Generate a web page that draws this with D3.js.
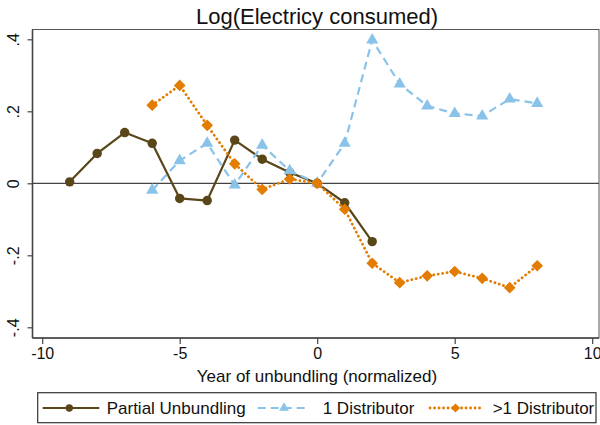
<!DOCTYPE html>
<html>
<head>
<meta charset="utf-8">
<script src="https://cdn.jsdelivr.net/npm/d3@7"></script>
<style>
  html, body { margin: 0; padding: 0; background: #fff; }
  svg { display: block; font-family: "Liberation Sans", Arial, sans-serif; }
</style>
</head>
<body>
<svg id="chart" width="600" height="425"></svg>
<script>
// Event-study estimates by year relative to unbundling
const partialYears = [-9, -8, -7, -6, -5, -4, -3, -2, -1, 0, 1, 2];
const partialVals  = [0.004, 0.083, 0.141, 0.111, -0.042, -0.048, 0.120, 0.067, 0.030, 0, -0.054, -0.162];

const oneDistYears = [-6, -5, -4, -3, -2, -1, 0, 1, 2, 3, 4, 5, 6, 7, 8];
const oneDistVals  = [-0.019, 0.063, 0.111, -0.005, 0.106, 0.035, 0, 0.111, 0.398, 0.276, 0.215, 0.194, 0.187, 0.234, 0.222];

const multiDistYears = [-6, -5, -4, -3, -2, -1, 0, 1, 2, 3, 4, 5, 6, 7, 8];
const multiDistVals  = [0.217, 0.272, 0.161, 0.054, -0.017, 0.012, 0, -0.072, -0.222, -0.276, -0.257, -0.245, -0.264, -0.290, -0.229];

const xTicks = [-10, -5, 0, 5, 10];
const xTickLabels = ["-10", "-5", "0", "5", "10"];
const yTicks = [-0.4, -0.2, 0, 0.2, 0.4];
const yTickLabels = ["-.4", "-.2", "0", ".2", ".4"];

const titleText = "Log(Electricy consumed)";
const xTitleText = "Year of unbundling (normalized)";
const seriesNames = ["Partial Unbundling", "1 Distributor", ">1 Distributor"];

const svg = d3.select("#chart");

// plot region frame
const box = { left: 32.5, top: 29.5, right: 599, bottom: 338 };

const x = d3.scaleLinear().domain([-10, 10]).range([42.2, 592.2]);
const y = d3.scaleLinear().domain([-0.4, 0.4]).range([327.3, 39.3]);

const C_BROWN = "#5a4719";
const C_BLUE = "#8ac3ea";
const C_ORANGE = "#e37c02";

// title
svg.append("text")
  .attr("x", 317).attr("y", 24)
  .attr("text-anchor", "middle")
  .attr("font-size", 22)
  .attr("fill", "#111")
  .text(titleText);

// plot region outline
svg.append("rect")
  .attr("x", box.left).attr("y", box.top)
  .attr("width", box.right - box.left).attr("height", box.bottom - box.top)
  .attr("fill", "none").attr("stroke", "#555").attr("stroke-width", 1);

// x axis
const xAxis = d3.axisBottom(x)
  .tickValues(xTicks)
  .tickFormat((d, i) => xTickLabels[i])
  .tickSize(6).tickPadding(4).tickSizeOuter(0);
const gx = svg.append("g").attr("transform", `translate(0,${box.bottom})`).call(xAxis);
gx.select(".domain").attr("d", `M${box.left},0H${box.right}`).attr("stroke", "#444").attr("stroke-width", 1.6);
gx.selectAll(".tick line").attr("stroke", "#444").attr("stroke-width", 1.2);
gx.selectAll(".tick text").attr("font-size", 16).attr("fill", "#111")
  .attr("font-family", "Liberation Sans, Arial, sans-serif");

// y axis
const yAxis = d3.axisLeft(y)
  .tickValues(yTicks)
  .tickFormat((d, i) => yTickLabels[i])
  .tickSize(5).tickPadding(0).tickSizeOuter(0);
const gy = svg.append("g").attr("transform", `translate(${box.left},0)`).call(yAxis);
gy.select(".domain").attr("d", `M0,${box.top}V${box.bottom}`).attr("stroke", "#444").attr("stroke-width", 1.6);
gy.selectAll(".tick line").attr("stroke", "#444").attr("stroke-width", 1.2);
gy.selectAll(".tick text")
  .attr("font-size", 16).attr("fill", "#111")
  .attr("font-family", "Liberation Sans, Arial, sans-serif")
  .attr("text-anchor", "middle")
  .attr("x", null).attr("dy", null)
  .attr("transform", "translate(-14,0) rotate(-90)");

// reference line at zero
svg.append("line")
  .attr("x1", box.left).attr("x2", box.right)
  .attr("y1", y(0)).attr("y2", y(0))
  .attr("stroke", "#444").attr("stroke-width", 1.3);

// x axis title
svg.append("text")
  .attr("x", 317).attr("y", 382)
  .attr("text-anchor", "middle")
  .attr("font-size", 17)
  .attr("fill", "#111")
  .text(xTitleText);

const line = d3.line().x(d => x(d[0])).y(d => y(d[1]));

const series = [
  { years: partialYears, vals: partialVals, color: C_BROWN, dash: null, width: 2.2, cap: "butt", marker: "circle" },
  { years: oneDistYears, vals: oneDistVals, color: C_BLUE, dash: "8,5", width: 2.2, cap: "butt", marker: "triangle" },
  { years: multiDistYears, vals: multiDistVals, color: C_ORANGE, dash: "0.1,4.4", width: 2.8, cap: "round", marker: "diamond" }
];

function markerPath(type, size) {
  const sym = type === "circle" ? d3.symbolCircle : type === "triangle" ? d3.symbolTriangle : d3.symbolSquare;
  return d3.symbol().type(sym).size(size)();
}

series.forEach(s => {
  const pts = s.years.map((yr, i) => [yr, s.vals[i]]);
  svg.append("path")
    .datum(pts)
    .attr("d", line)
    .attr("fill", "none")
    .attr("stroke", s.color)
    .attr("stroke-width", s.width)
    .attr("stroke-dasharray", s.dash)
    .attr("stroke-linecap", s.cap)
    .attr("stroke-linejoin", "round");

  const size = s.marker === "circle" ? 70 : s.marker === "triangle" ? 64 : 68;
  svg.append("g").selectAll("path")
    .data(pts)
    .join("path")
    .attr("d", markerPath(s.marker, size))
    .attr("transform", d => `translate(${x(d[0])},${y(d[1])})` + (s.marker === "diamond" ? " rotate(45)" : ""))
    .attr("fill", s.color);
});

// legend
const legend = svg.append("g");
legend.append("rect")
  .attr("x", 37.7).attr("y", 392.7)
  .attr("width", 596 - 37.7).attr("height", 30)
  .attr("fill", "#fff").attr("stroke", "#333").attr("stroke-width", 1.2);

const legendItems = [
  { x1: 42.7, x2: 99.3, mx: 69.3, tx: 106.7 },
  { x1: 257.7, x2: 309, mx: 284, tx: 322.7 },
  { x1: 430, x2: 482, mx: 455.5, tx: 492.7 }
];
const ly = 408;
legendItems.forEach((it, i) => {
  const s = series[i];
  legend.append("line")
    .attr("x1", it.x1).attr("x2", it.x2).attr("y1", ly).attr("y2", ly)
    .attr("stroke", s.color).attr("stroke-width", s.width)
    .attr("stroke-dasharray", s.dash)
    .attr("stroke-linecap", s.cap);
  legend.append("path")
    .attr("d", markerPath(s.marker, 42))
    .attr("transform", `translate(${it.mx},${ly})` + (s.marker === "diamond" ? " rotate(45)" : ""))
    .attr("fill", s.color);
  legend.append("text")
    .attr("x", it.tx).attr("y", ly + 6)
    .attr("font-size", 17).attr("fill", "#111")
    .text(seriesNames[i]);
});
</script>
</body>
</html>
